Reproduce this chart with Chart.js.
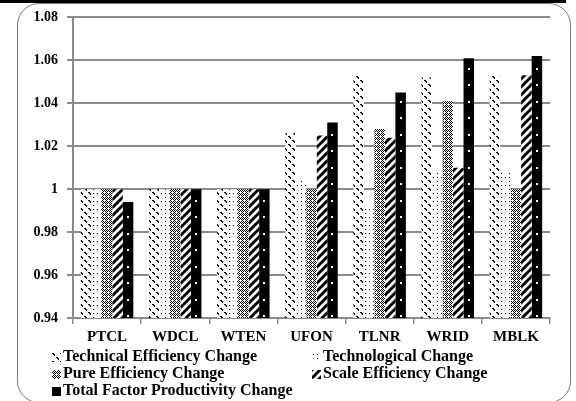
<!DOCTYPE html>
<html>
<head>
<meta charset="utf-8">
<script src="https://cdn.jsdelivr.net/npm/chart.js@4"></script>
<style>
  body { margin: 0; background: #fff; }
  #wrap { position: relative; width: 576px; height: 401px; overflow: hidden; }
  #frame { position: absolute; left: 17px; top: 3px; width: 554px; height: 400px;
           border: 1.5px solid #7a7a7a; border-radius: 22px; box-sizing: border-box; }
  #topline { position: absolute; left: 0; top: 0; width: 566px; height: 3px; background: #000; }
  #c { position: absolute; left: 0; top: 0; }
  .leg { position: absolute; font: bold 16px "Liberation Serif", "Times New Roman", serif;
         color: #000; white-space: nowrap; line-height: 17px; }
  .leg canvas { vertical-align: -1px; margin-right: 2px; }
</style>
</head>
<body>
<div id="wrap">
  <div id="frame"></div>
  <div id="topline"></div>
  <canvas id="c" width="576" height="350"></canvas>
  <div id="legend"></div>
</div>
<script>
// Datos del grafico
const empresas = ['PTCL', 'WDCL', 'WTEN', 'UFON', 'TLNR', 'WRID', 'MBLK'];
const nombresSeries = [
  'Technical Efficiency Change',
  'Technological Change',
  'Pure Efficiency Change',
  'Scale Efficiency Change',
  'Total Factor Productivity Change'
];
const tecnica = [1.000, 1.000, 1.000, 1.026, 1.053, 1.052, 1.053];
const tecnologica = [1.000, 1.000, 1.000, 1.004, 0.992, 1.008, 1.008];
const pura = [1.000, 1.000, 1.000, 1.000, 1.028, 1.041, 1.000];
const escala = [1.000, 1.000, 1.000, 1.025, 1.024, 1.010, 1.053];
const tfp = [0.994, 1.000, 1.000, 1.031, 1.045, 1.061, 1.062];
const ticksY = [0.94, 0.96, 0.98, 1.00, 1.02, 1.04, 1.06, 1.08];

const fuente = '"Liberation Serif", "Times New Roman", serif';
const gris = '#8a8a8a';

// Dibujos de las tramas (8x8 como en Excel)
const tramas = [
  g => { // diagonales "\" punteadas
    [0, 1, 2, 4, 5, 6].forEach(i => g.fillRect(i, i, 1, 1));
    [0, 1, 4, 5].forEach(i => g.fillRect(i + 1, i, 1, 1));
  },
  g => { // puntos sueltos
    g.fillRect(1, 1, 1, 1);
    g.fillRect(5, 5, 1, 1);
    g.fillRect(5, 1, 1, 1);
  },
  g => { // cuadriculado fino
    for (let y = 0; y < 8; y++) {
      for (let x = 0; x < 8; x++) {
        if ((x + y) % 2 === 0 && !(x % 4 === 0 && y % 4 === 0)) g.fillRect(x, y, 1, 1);
      }
    }
  },
  g => { // trazos gruesos "/"
    g.strokeStyle = '#000';
    g.lineWidth = 3;
    [-8, 0, 8].forEach(d => {
      g.beginPath();
      g.moveTo(-1 + d, 9);
      g.lineTo(9 + d, -1);
      g.stroke();
    });
  },
  g => { // negro
    g.fillRect(0, 0, 8, 8);
  }
];

function crearTrama(ctx, dibujo) {
  const c = document.createElement('canvas');
  c.width = 8;
  c.height = 8;
  const g = c.getContext('2d');
  g.fillStyle = '#fff';
  g.fillRect(0, 0, 8, 8);
  g.fillStyle = '#000';
  dibujo(g);
  return ctx.createPattern(c, 'repeat');
}

const ctx = document.getElementById('c').getContext('2d');
const series = [tecnica, tecnologica, pura, escala, tfp];

// Puntos blancos sobre las barras de TFP
const puntosBlancos = {
  id: 'puntosBlancos',
  afterDatasetsDraw(chart) {
    const meta = chart.getDatasetMeta(4);
    const c = chart.ctx;
    c.save();
    c.fillStyle = '#fff';
    meta.data.forEach(bar => {
      const arriba = Math.min(bar.y, bar.base);
      const abajo = Math.max(bar.y, bar.base);
      for (let y = abajo - 7; y > arriba + 2; y -= 16.5) {
        c.fillRect(Math.round(bar.x) - 1, Math.round(y) - 1, 2, 2);
      }
    });
    c.restore();
  }
};

const chart = new Chart(ctx, {
  type: 'bar',
  data: {
    labels: empresas,
    datasets: series.map((datos, i) => ({
      label: nombresSeries[i],
      data: datos,
      backgroundColor: crearTrama(ctx, tramas[i]),
      borderWidth: 0,
      categoryPercentage: 0.77,
      barPercentage: 1.0
    }))
  },
  options: {
    responsive: false,
    animation: false,
    devicePixelRatio: 1,
    layout: { padding: { top: 17, right: 26, left: 0, bottom: 0 } },
    plugins: {
      legend: { display: false },
      tooltip: { enabled: false }
    },
    scales: {
      x: {
        grid: { offset: true, drawOnChartArea: false, color: gris, lineWidth: 1.5, tickLength: 6 },
        border: { color: gris, width: 2 },
        ticks: { color: '#000', padding: 4, font: { family: fuente, size: 15, weight: 'bold' } },
        afterFit(scale) { scale.height = 32; }
      },
      y: {
        min: 0.94,
        max: 1.08,
        afterBuildTicks(scale) { scale.ticks = ticksY.map(v => ({ value: v })); },
        grid: { color: gris, lineWidth: 2, tickLength: 6 },
        border: { color: gris, width: 2 },
        ticks: {
          color: '#000',
          padding: 9,
          font: { family: fuente, size: 14, weight: 'bold' },
          callback: v => String(Number(v.toFixed(2)))
        },
        afterFit(scale) { scale.width = 73; }
      }
    }
  },
  plugins: [puntosBlancos]
});

// Leyenda en dos columnas
const posLeyenda = [
  { x: 52, y: 347 }, { x: 312, y: 347 },
  { x: 52, y: 364 }, { x: 312, y: 364 },
  { x: 52, y: 381 }
];
const leyenda = document.getElementById('legend');
nombresSeries.forEach((nombre, i) => {
  const div = document.createElement('div');
  div.className = 'leg';
  div.style.left = posLeyenda[i].x + 'px';
  div.style.top = posLeyenda[i].y + 'px';
  const m = document.createElement('canvas');
  m.width = 9;
  m.height = 9;
  const mc = m.getContext('2d');
  mc.fillStyle = crearTrama(mc, tramas[i]);
  mc.fillRect(0, 0, 9, 9);
  div.appendChild(m);
  div.appendChild(document.createTextNode(nombre));
  leyenda.appendChild(div);
});
</script>
</body>
</html>
